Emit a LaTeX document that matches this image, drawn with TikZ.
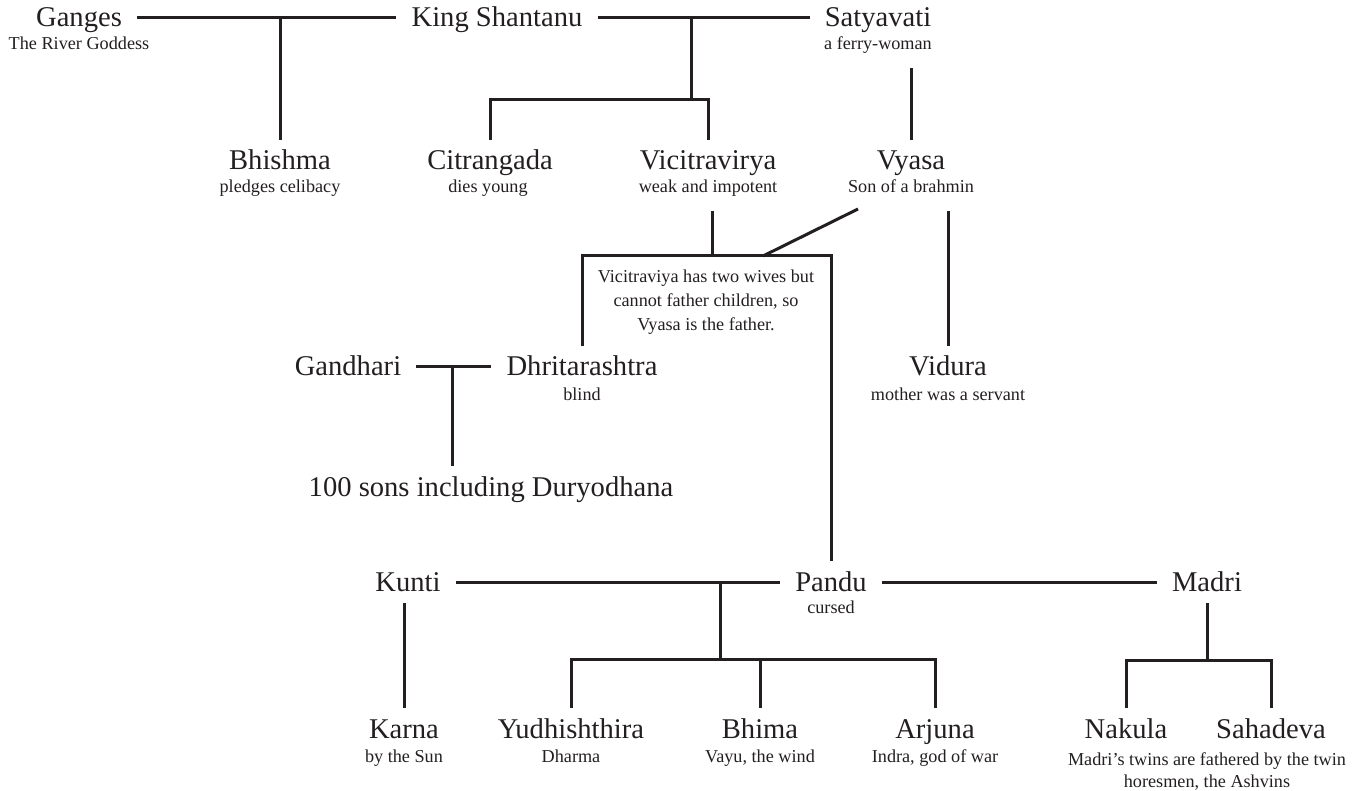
\documentclass[tikz,border=0pt]{standalone}
\usepackage{fontspec}
\setmainfont{Liberation Serif}
\usepackage{xcolor}
\definecolor{ink}{HTML}{231F20}
\tikzset{
  pname/.style={anchor=base, font=\fontsize{28.6}{32}\selectfont, text height=18pt, text depth=0pt, inner xsep=15pt, inner ysep=12pt, text=ink},
  psub/.style={anchor=base, font=\fontsize{18.2}{22}\selectfont, text height=11pt, text depth=4pt, inner xsep=2pt, inner ysep=14pt, text=ink},
  link/.style={draw=ink, line width=3pt},
}
\begin{document}
\begin{tikzpicture}[x=1pt,y=-1pt]
\useasboundingbox (0,0) rectangle (1360,791);
% row 1
\node[pname] (ganges) at (79,27) {Ganges};
\node[psub] (ganges-s) at (79,50) {The River Goddess};
\node[pname] (shantanu) at (497,27) {King Shantanu};
\node[pname] (satyavati) at (878,27) {Satyavati};
\node[psub] (satyavati-s) at (878,50) {a ferry-woman};
% row 2
\node[pname] (bhishma) at (280,170) {Bhishma};
\node[psub] (bhishma-s) at (280,193) {pledges celibacy};
\node[pname] (citrangada) at (490,170) {Citrangada};
\node[psub] (citrangada-s) at (488,193) {dies young};
\node[pname] (vicitravirya) at (708,170) {Vicitravirya};
\node[psub] (vicitravirya-s) at (708,193) {weak and impotent};
\node[pname] (vyasa) at (911,170) {Vyasa};
\node[psub] (vyasa-s) at (911,193) {Son of a brahmin};
\node[font=\fontsize{18.2}{24}\selectfont, text=ink, align=center, inner sep=0pt] (note) at (706,302)
  {Vicitraviya has two wives but\\cannot father children, so\\Vyasa is the father.};
% row 3
\node[pname] (gandhari) at (348,376) {Gandhari};
\node[pname] (dhrita) at (582,376) {Dhritarashtra};
\node[psub] (dhrita-s) at (582,400) {blind};
\node[pname] (vidura) at (948,376) {Vidura};
\node[psub] (vidura-s) at (948,400) {mother was a servant};
\node[pname] (sons) at (491,496) {100 sons including Duryodhana};
% row 4
\node[pname] (kunti) at (408,591) {Kunti};
\node[pname] (pandu) at (831,591) {Pandu};
\node[psub] (pandu-s) at (831,613) {cursed};
\node[pname] (madri) at (1207,591) {Madri};
% row 5
\node[pname] (karna) at (404,738) {Karna};
\node[psub] (karna-s) at (404,762) {by the Sun};
\node[pname] (yudhi) at (571,738) {Yudhishthira};
\node[psub] (yudhi-s) at (571,762) {Dharma};
\node[pname] (bhima) at (760,738) {Bhima};
\node[psub] (bhima-s) at (760,762) {Vayu, the wind};
\node[pname] (arjuna) at (935,738) {Arjuna};
\node[psub] (arjuna-s) at (935,762) {Indra, god of war};
\node[pname] (nakula) at (1126,738) {Nakula};
\node[pname] (sahadeva) at (1271,738) {Sahadeva};
\node[psub] (twins-a) at (1207,765) {Madri’s twins are fathered by the twin};
\node[psub] (twins-b) at (1207,787) {horesmen, the Ashvins};
% connectors
\draw[link] (ganges) -- (shantanu);
\draw[link] (shantanu) -- (satyavati);
\draw[link] (bhishma.north |- ganges.east) -- (bhishma.north);
\coordinate (sj) at (691,100);
\draw[link] (sj |- shantanu.east) -- (sj);
\draw[link] (citrangada.north) |- (sj) -| (vicitravirya.north);
\draw[link] (satyavati-s.south -| vyasa.north) -- (vyasa.north);
\coordinate (bk) at (712,256);
\draw[link] (vicitravirya-s.south -| bk) -- (bk);
\draw[link] (dhrita.north) |- (bk) -| (pandu.north);
\coordinate (dv) at (858,209);
\coordinate (db) at (763,256);
\draw[link] (dv) -- (db);
\draw[link] (vyasa-s.south -| vidura.north) -- (vidura.north);
\draw[link] (gandhari) -- (dhrita);
\coordinate (gj) at (452,367);
\draw[link] (gj) -- (gj |- sons.north);
\draw[link] (kunti) -- (pandu);
\draw[link] (pandu) -- (madri);
\coordinate (pj) at (720,659);
\draw[link] (pj |- kunti.east) -- (pj);
\draw[link] (yudhi.north) |- (arjuna.north |- pj) -- (arjuna.north);
\draw[link] (bhima.north |- pj) -- (bhima.north);
\draw[link] (kunti.south -| karna.north) -- (karna.north);
\coordinate (mj) at (1207,660);
\draw[link] (madri.south) -- (mj);
\draw[link] (nakula.north) |- (mj) -| (sahadeva.north);
\end{tikzpicture}
\end{document}
